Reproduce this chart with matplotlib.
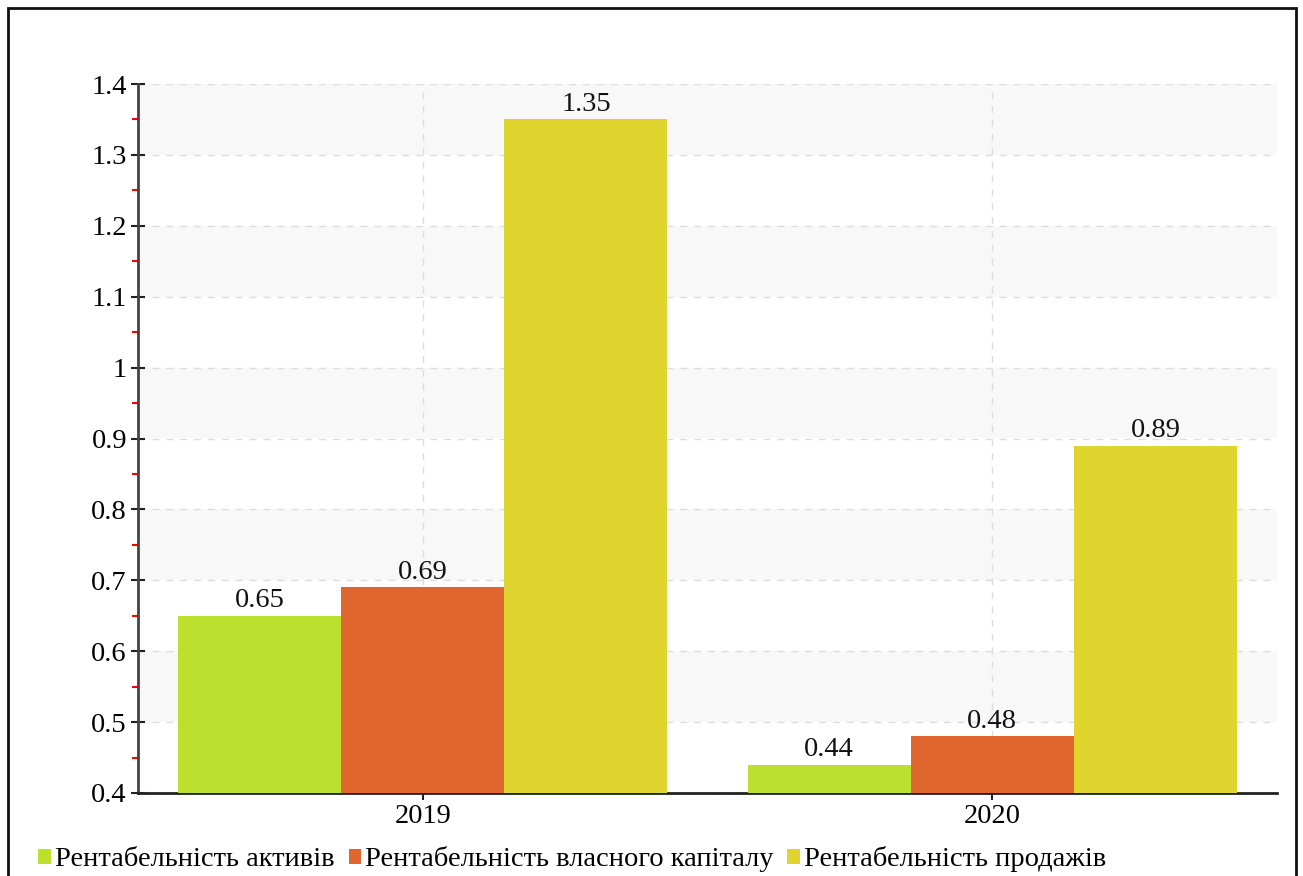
import matplotlib.pyplot as plt
import matplotlib.patches as patches
import numpy as np

years = ['2019', '2020']
labels = ['Рентабельність активів', 'Рентабельність власного капіталу', 'Рентабельність продажів']
assets = [0.65, 0.44]
equity = [0.69, 0.48]
sales = [1.35, 0.89]
yticks = [0.4, 0.5, 0.6, 0.7, 0.8, 0.9, 1.0, 1.1, 1.2, 1.3, 1.4]
ytick_labels = ['0.4', '0.5', '0.6', '0.7', '0.8', '0.9', '1', '1.1', '1.2', '1.3', '1.4']

colors = ['#bde02f', '#e06630', '#e0d52e']

plt.rcParams['font.family'] = ['Liberation Serif', 'DejaVu Serif']

fig = plt.figure(figsize=(13.03, 8.76), dpi=100)
ax = fig.add_axes([138/1303, 83/876, (1277-138)/1303, (793-84)/876])

# alternating bands
for i in range(len(yticks) - 1):
    if i % 2 == 1:
        ax.axhspan(yticks[i], yticks[i+1], color='#f8f8f8', zorder=0, lw=0)

x = np.arange(len(years))
w = 0.2865
series = [assets, equity, sales]
for i, s in enumerate(series):
    b = ax.bar(x + (i - 1) * w, s, w, bottom=0, color=colors[i], label=labels[i], zorder=3)
    ax.bar_label(b, labels=['%g' % v for v in s], padding=2, fontsize=20.5, color='#111111')

ax.set_xlim(-0.5, 1.5)
ax.set_ylim(0.4, 1.4)
ax.set_xticks(x)
ax.set_xticklabels(years, fontsize=20.5)
ax.set_yticks(yticks)
ax.set_yticklabels(ytick_labels, fontsize=20.5)
ax.set_yticks(np.arange(0.45, 1.4, 0.1), minor=True)
ax.tick_params(axis='y', which='major', direction='inout', length=10, width=1.5, color='#222222', pad=3)
ax.tick_params(axis='y', which='minor', direction='out', length=4, width=1.5, color='red')
ax.tick_params(axis='x', which='major', direction='inout', length=10, width=1.5, color='#222222', pad=3)

ax.grid(True, which='major', linestyle=(0, (5, 5)), color='#dddddd', lw=1, zorder=1)

for sp in ['top', 'right']:
    ax.spines[sp].set_visible(False)
ax.spines['left'].set_color('#444444')
ax.spines['left'].set_linewidth(2)
ax.spines['bottom'].set_color('#222222')
ax.spines['bottom'].set_linewidth(2)

fig.legend(loc='lower left', bbox_to_anchor=(0.012, -0.022), ncol=3, frameon=False, fontsize=20.5,
           handlelength=0.45, handleheight=0.45, handletextpad=0.12, columnspacing=0.5, borderpad=0.3)

border = patches.Rectangle((8/1303, -0.05), (1296-8)/1303, 1.05 - 8/876, transform=fig.transFigure,
                           fill=False, edgecolor='#111111', lw=2)
fig.patches.append(border)

plt.savefig('out.png', dpi=100)
